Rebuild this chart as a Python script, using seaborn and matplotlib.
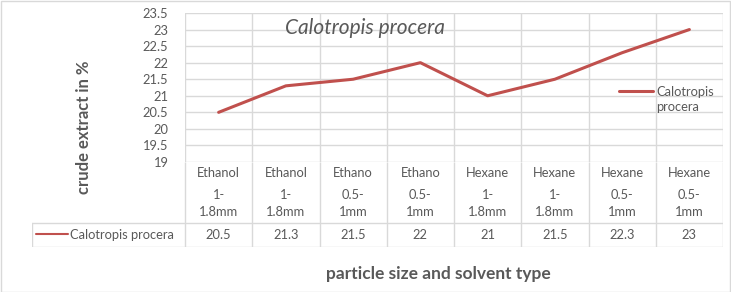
import matplotlib
matplotlib.use("Agg")
import matplotlib.pyplot as plt
import seaborn as sns
import pandas as pd
from matplotlib.patches import Rectangle

# ---- data ----
solvents = ["Ethanol", "Ethanol", "Ethano", "Ethano", "Hexane", "Hexane", "Hexane", "Hexane"]
size_line1 = ["1-", "1-", "0.5-", "0.5-", "1-", "1-", "0.5-", "0.5-"]
size_line2 = ["1.8mm", "1.8mm", "1mm", "1mm", "1.8mm", "1.8mm", "1mm", "1mm"]
values = [20.5, 21.3, 21.5, 22, 21, 21.5, 22.3, 23]
series_name = "Calotropis procera"
y_ticks = [19, 19.5, 20, 20.5, 21, 21.5, 22, 22.5, 23, 23.5]
title = "Calotropis procera"
x_label = "particle size and solvent type"
y_label = "crude extract in %"

sns.set_theme(style="white")
plt.rcParams["font.family"] = ["Lato", "DejaVu Sans"]

W, H = 731, 292
TXT = "#595959"
GRID = "#D9D9D9"
RED = "#C0504D"
FS = 9.3

fig = plt.figure(figsize=(W / 100, H / 100), dpi=100)
fig.patch.set_facecolor("white")

# plot area in pixels
L, R, T, B = 185, 723, 13, 162
ax = fig.add_axes([L / W, 1 - B / H, (R - L) / W, (B - T) / H])
df = pd.DataFrame({"x": range(len(values)), "y": values, "s": series_name})
sns.lineplot(data=df, x="x", y="y", color=RED, linewidth=2.2, ax=ax, label=series_name, legend=False)
ax.set_xlim(-0.5, len(values) - 0.5)
ax.set_ylim(y_ticks[0], y_ticks[-1])
ax.set_yticks(y_ticks)
ax.set_yticklabels([f"{t:g}" for t in y_ticks], fontsize=FS, color=TXT)
ax.set_xticks([i + 0.5 for i in range(-1, len(values))], minor=False)
ax.set_xticklabels([])
ax.tick_params(axis="both", length=0, pad=12)
ax.grid(True, color=GRID, linewidth=1)
ax.set_axisbelow(True)
for s in ax.spines.values():
    s.set_visible(False)
ax.set_xlabel("")
ax.set_ylabel("")

# legend inside plot
handles = ax.get_lines()[:1]
leg = ax.legend(handles, ["Calotropis"], loc="center left",
                bbox_to_anchor=(613 / W, 1 - 92 / H), bbox_transform=fig.transFigure,
                frameon=False, borderpad=0, handlelength=2.6, handletextpad=0.25,
                prop={"size": FS, "family": ["Lato", "DejaVu Sans"]})
for t in leg.get_texts():
    t.set_color(TXT)
ann = ax.annotate("procera", xy=(0, 0), xycoords=leg.get_texts()[0], xytext=(0, -2.5),
                  textcoords="offset points", ha="left", va="top", fontsize=FS, color=TXT)
ann.set_zorder(10)

# data table below
TL, TT, TB = 32, 162, 247
ppu = (R - L) / len(values)
def px2x(p):
    return -0.5 + (p - L) / ppu
tab = fig.add_axes([TL / W, 1 - TB / H, (R - TL) / W, (TB - TT) / H])
tab.set_xlim(px2x(TL), len(values) - 0.5)
tab.set_ylim(TB, TT)
tab.axis("off")
for k in range(len(values) + 1):
    tab.plot([k - 0.5, k - 0.5], [TT, TB], color=GRID, lw=1, solid_capstyle="butt")
tab.plot([px2x(TL), len(values) - 0.5], [223, 223], color=GRID, lw=1)
tab.plot([px2x(TL), len(values) - 0.5], [TB - 0.5, TB - 0.5], color=GRID, lw=1)
tab.plot([px2x(TL) + 0.005, px2x(TL) + 0.005], [223, TB], color=GRID, lw=1)
for i in range(len(values)):
    tab.text(i, 173, solvents[i], ha="center", va="center", fontsize=FS, color=TXT)
    tab.text(i, 195, size_line1[i], ha="center", va="center", fontsize=FS, color=TXT)
    tab.text(i, 212, size_line2[i], ha="center", va="center", fontsize=FS, color=TXT)
    tab.text(i, 235, f"{values[i]:g}", ha="center", va="center", fontsize=FS, color=TXT)
tab.plot([px2x(36), px2x(68)], [234, 234], color=RED, lw=1.5)
tab.text(px2x(70), 235, series_name, ha="left", va="center", fontsize=FS, color=TXT)

# titles and axis labels
fig.text(365 / W, 1 - 28 / H, title, ha="center", va="center", fontsize=15,
         style="italic", color=TXT)
fig.text(84 / W, 1 - 127 / H, y_label, ha="center", va="center", rotation=90,
         fontsize=12, fontweight="bold", color=TXT)
fig.text(438 / W, 1 - 274 / H, x_label, ha="center", va="center",
         fontsize=12.5, fontweight="bold", color=TXT)

fig.patches.append(Rectangle((0.5 / W, 0.5 / H), 1 - 1.5 / W, 1 - 1.5 / H, transform=fig.transFigure,
                             fill=False, edgecolor=GRID, lw=1))

fig.savefig("out.png", dpi=100, facecolor="white")
